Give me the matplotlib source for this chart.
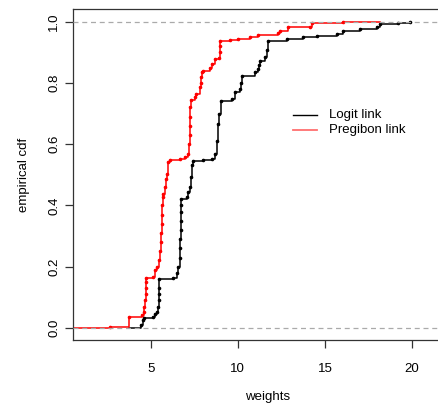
import matplotlib
matplotlib.use("Agg")
import matplotlib.pyplot as plt

plt.rcParams['font.family'] = ['Liberation Sans', 'DejaVu Sans']

# Pregibon link ECDF: knot locations (weights) and cdf level after each knot
red_x = [2.66, 3.75, 4.50, 4.59, 4.64, 4.68, 4.70, 4.72, 4.73, 4.74, 5.11, 5.25,
         5.34, 5.48, 5.55, 5.58, 5.60, 5.62, 5.64, 5.66, 5.68, 5.72, 5.82, 5.88,
         5.92, 6.01, 6.11, 6.68, 6.97, 7.16, 7.22, 7.24, 7.25, 7.26, 7.27, 7.30,
         7.53, 7.62, 7.83, 7.86, 7.90, 7.93, 8.02, 8.40, 8.50, 8.69, 8.94, 8.96,
         8.98, 9.00, 9.55, 10.03, 10.70, 11.18, 12.32, 12.42, 12.90, 14.14, 14.24,
         16.06]
red_y = [0.003, 0.036, 0.042, 0.053, 0.070, 0.090, 0.110, 0.130, 0.150, 0.163,
         0.166, 0.189, 0.200, 0.221, 0.250, 0.280, 0.310, 0.340, 0.370, 0.400,
         0.428, 0.439, 0.460, 0.488, 0.504, 0.542, 0.549, 0.553, 0.558, 0.569,
         0.600, 0.630, 0.660, 0.690, 0.720, 0.743, 0.753, 0.764, 0.786, 0.800,
         0.820, 0.835, 0.840, 0.849, 0.862, 0.878, 0.880, 0.900, 0.920, 0.936,
         0.940, 0.944, 0.951, 0.958, 0.962, 0.970, 0.981, 0.984, 0.995, 1.000]

# Logit link ECDF
black_x = [4.45, 4.55, 4.60, 5.11, 5.25, 5.34, 5.42, 5.46, 5.48, 5.49, 5.50,
           6.30, 6.49, 6.58, 6.66, 6.69, 6.70, 6.71, 6.72, 6.73, 6.74, 6.75,
           7.07, 7.16, 7.26, 7.31, 7.35, 7.41, 8.02, 8.50, 8.69, 8.80, 8.86,
           8.92, 9.04, 9.65, 9.84, 10.13, 10.18, 10.22, 10.99, 11.18, 11.22,
           11.27, 11.56, 11.65, 11.73, 12.81, 13.76, 14.53, 15.68, 16.06, 17.01,
           17.97, 18.16, 19.20, 19.89]
black_y = [0.010, 0.025, 0.034, 0.036, 0.045, 0.053, 0.070, 0.090, 0.110, 0.130,
           0.159, 0.162, 0.180, 0.200, 0.230, 0.260, 0.290, 0.320, 0.350, 0.380,
           0.400, 0.422, 0.428, 0.444, 0.460, 0.493, 0.531, 0.545, 0.549, 0.553,
           0.569, 0.612, 0.667, 0.700, 0.740, 0.748, 0.770, 0.781, 0.800, 0.824,
           0.835, 0.846, 0.860, 0.873, 0.884, 0.906, 0.936, 0.944, 0.951, 0.954,
           0.960, 0.970, 0.977, 0.981, 0.992, 0.994, 1.000]

series_names = ["Logit link", "Pregibon link"]
yticks = [0.0, 0.2, 0.4, 0.6, 0.8, 1.0]
xticks = [5, 10, 15, 20]

W, H = 438, 404
fig = plt.figure(figsize=(W / 100, H / 100), dpi=100)
x_lo, x_hi = 0.52, 22.93
left_px, right_px = 72.7, 150.7 + (x_hi - 5) * 17.42
top_px, bot_px = 9.4, 340.3
ax = fig.add_axes([left_px / W, 1 - bot_px / H, (right_px - left_px) / W, (bot_px - top_px) / H])
ax.set_xlim(x_lo, x_hi)
ax.set_ylim(-0.04, 1.04)

def draw_ecdf(xs, ys, start, end, color):
    sx = [start] + xs + [end]
    sy = [0.0] + ys + [ys[-1]]
    ax.step(sx, sy, where='post', color=color, lw=1.1, zorder=2)
    ax.plot(xs, ys, linestyle='none', marker='o', ms=2.6, mew=0, color=color, zorder=2)

draw_ecdf(black_x, black_y, 3.75, black_x[-1], 'black')
draw_ecdf(red_x, red_y, x_lo, 18.16, 'red')

for yv in (0.0, 1.0):
    ax.axhline(yv, color='#aaaaaa', lw=0.9, ls=(0, (4, 3)), zorder=3)

for s in ax.spines.values():
    s.set_linewidth(0.9)
    s.set_color('#333333')

ax.set_xticks(xticks)
ax.set_xticklabels([str(v) for v in xticks], fontsize=9.5)
ax.set_yticks(yticks)
ax.set_yticklabels([f"{v:.1f}" for v in yticks], fontsize=9.5, rotation=90, va='center')
ax.tick_params(axis='both', length=6, width=0.9, color='#333333')
ax.tick_params(axis='x', pad=10.5)
ax.tick_params(axis='y', pad=3)

ax.set_xlabel("weights", fontsize=9.5)
ax.set_ylabel("empirical cdf", fontsize=9.5, labelpad=13)
ax.xaxis.set_label_coords(0.5, -0.152)

# legend (no frame)
fx = lambda px: px / W
fy = lambda py: 1 - py / H
fig.add_artist(plt.Line2D([fx(292.7), fx(316.7)], [fy(115), fy(115)], color='black', lw=1.0))
fig.add_artist(plt.Line2D([fx(292.7), fx(316.7)], [fy(130), fy(130)], color='#ff7070', lw=1.3))
fig.text(fx(329), fy(115), series_names[0], fontsize=9.5, va='center', ha='left')
fig.text(fx(329), fy(130), series_names[1], fontsize=9.5, va='center', ha='left')

fig.savefig("out.png", dpi=100)
